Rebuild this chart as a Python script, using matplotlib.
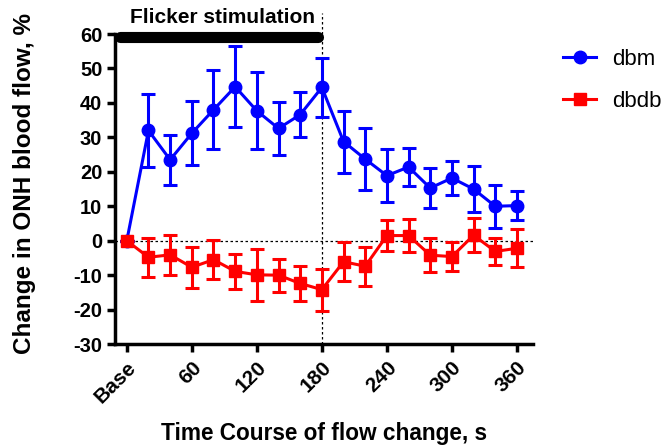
import numpy as np
import matplotlib
matplotlib.use("Agg")
import matplotlib.pyplot as plt
import matplotlib.transforms as mtransforms
from matplotlib.lines import Line2D

plt.rcParams['font.family'] = ['Liberation Sans', 'DejaVu Sans']

# time points (s), 0 = Base
time_s = [0, 20, 40, 60, 80, 100, 120, 140, 160, 180, 200, 220, 240, 260, 280, 300, 320, 340, 360]

dbm_mean = [0, 32, 23.5, 31.2, 38, 44.7, 37.7, 32.6, 36.6, 44.5, 28.8, 23.7, 18.9, 21.4, 15.3, 18.2, 15, 10, 10.2]
dbm_err = [0, 10.7, 7.3, 9.3, 11.5, 11.8, 11.2, 7.8, 6.5, 8.5, 9, 8.9, 7.7, 5.5, 5.8, 4.9, 6.7, 6.3, 4.1]

dbdb_mean = [0, -4.8, -4.1, -7.7, -5.5, -8.9, -9.9, -10, -12.4, -14.2, -6.1, -7.4, 1.5, 1.5, -4.2, -4.6, 1.6, -3.1, -2.2]
dbdb_err = [0, 5.7, 5.9, 6, 5.7, 5, 7.6, 4.8, 5, 6.1, 5.6, 5.6, 4.5, 4.7, 5, 4.2, 5, 4, 5.5]

xtick_pos = [0, 60, 120, 180, 240, 300, 360]
xtick_labels = ["Base", "60", "120", "180", "240", "300", "360"]
ytick_pos = [-30, -20, -10, 0, 10, 20, 30, 40, 50, 60]

stim_start, stim_end = 0, 180

fig = plt.figure(figsize=(6.64, 4.48), dpi=100)
ax = fig.add_axes([0.173, 0.232, 0.63, 0.692])

ax.errorbar(time_s, dbm_mean, yerr=dbm_err, color="#0000ff", marker="o",
            markersize=9, linewidth=2.2, elinewidth=2.2, capsize=5, capthick=2.2,
            zorder=3)
ax.errorbar(time_s, dbdb_mean, yerr=dbdb_err, color="#ff0000", marker="s",
            markersize=8.5, linewidth=2.2, elinewidth=2.2, capsize=5, capthick=2.2,
            zorder=3)

# reference lines
ax.axhline(0, color="black", linestyle=(0, (2, 2)), linewidth=0.9, zorder=1)
ax.plot([stim_end, stim_end], [-30, 66], color="black", linestyle=(0, (2, 2)),
        linewidth=0.9, clip_on=False, zorder=1)

# stimulation bar
ax.plot([stim_start - 6, stim_end - 4], [59, 59], color="black", linewidth=8,
        solid_capstyle="round", clip_on=False, zorder=4)
ax.text(88, 62, "Flicker stimulation", ha="center",
        va="bottom", fontsize=15, fontweight="bold")

ax.set_xlim(-11, 375)
ax.set_ylim(-30, 60)
ax.set_xticks(xtick_pos)
ax.set_xticklabels(xtick_labels, rotation=45, ha="right", va="top",
                   rotation_mode="anchor", fontsize=15, fontweight="bold")
shift = mtransforms.ScaledTranslation(-5 / 72, -6 / 72, fig.dpi_scale_trans)
for lbl in ax.get_xticklabels():
    lbl.set_transform(lbl.get_transform() + shift)
ax.set_yticks(ytick_pos)
ax.set_yticklabels([str(v) for v in ytick_pos], fontsize=14.5, fontweight="bold")

for s in ["top", "right"]:
    ax.spines[s].set_visible(False)
for s in ["left", "bottom"]:
    ax.spines[s].set_linewidth(2.5)
ax.tick_params(width=2.5, length=6, direction="out")
ax.tick_params(axis="y", pad=3)
ax.tick_params(axis="x", pad=4)

ax.set_xlabel("Time Course of flow change, s", fontsize=16.3, fontweight="bold")
ax.set_ylabel("Change in ONH blood flow, %", fontsize=17.5, fontweight="bold")
ax.xaxis.set_label_coords(0.501, -0.25)
ax.yaxis.set_label_coords(-0.188, 0.519)

handles = [
    Line2D([], [], color="#0000ff", marker="o", markersize=9, linewidth=2.2),
    Line2D([], [], color="#ff0000", marker="s", markersize=8.5, linewidth=2.2),
]
fig.legend(handles, ["dbm", "dbdb"], loc="upper left",
           bbox_to_anchor=(563 / 664, 1 - 49 / 448), borderaxespad=0, borderpad=0,
           frameon=False, fontsize=16, handlelength=1.5, labelspacing=0.95,
           handletextpad=0.73)

fig.savefig("out.png", dpi=100)
